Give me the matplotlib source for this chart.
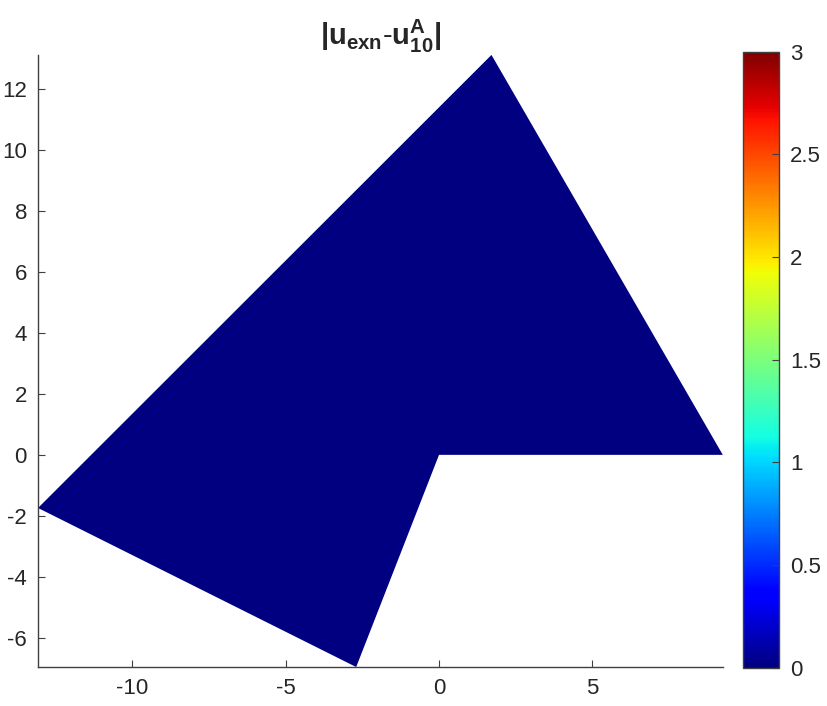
import matplotlib
matplotlib.use('Agg')
import matplotlib.pyplot as plt
from matplotlib.collections import PolyCollection
import numpy as np

plt.rcParams['font.family'] = ['Liberation Sans', 'DejaVu Sans']
plt.rcParams['mathtext.fontset'] = 'custom'
plt.rcParams['mathtext.rm'] = 'Liberation Sans'
plt.rcParams['mathtext.bf'] = 'Liberation Sans:bold'
plt.rcParams['axes.unicode_minus'] = False

# domain vertices (x, y) and error value on it
poly_x = [-13.07, 1.71, 9.25, 0.0, -2.70]
poly_y = [-1.74, 13.1, 0.0, 0.0, -6.95]
err_value = [0.0]
clim = (0, 3)
x_ticks = [-10, -5, 0, 5]
y_ticks = [-6, -4, -2, 0, 2, 4, 6, 8, 10, 12]
cb_ticks = [0, 0.5, 1, 1.5, 2, 2.5, 3]
cb_labels = ['0', '0.5', '1', '1.5', '2', '2.5', '3']

txt = '#262626'
fig = plt.figure(figsize=(8.27, 7.06), dpi=100)
ax = fig.add_axes([0.046, 0.0552, 0.828, 0.867])
cax = fig.add_axes([0.898, 0.054, 0.044, 0.873])

verts = [np.column_stack([poly_x, poly_y])]
pc = PolyCollection(verts, cmap='jet', edgecolors='none', antialiased=True)
pc.set_array(np.array(err_value))
pc.set_clim(*clim)
ax.add_collection(pc)

ax.set_xlim(min(poly_x), max(poly_x))
ax.set_ylim(min(poly_y), max(poly_y))
ax.set_xticks(x_ticks)
ax.set_yticks(y_ticks)
for s in ['top', 'right']:
    ax.spines[s].set_visible(False)
for s in ['left', 'bottom']:
    ax.spines[s].set_color('#404040')
    ax.spines[s].set_linewidth(1.0)
ax.tick_params(direction='in', length=5, width=0.8, colors='#404040',
               labelcolor=txt, labelsize=16, pad=8)

ax.set_title(r'$\mathbf{|u}_{\mathbf{exn}}\mathbf{\text{-}u}^{\mathbf{A}}_{\mathbf{10}}\mathbf{|}$',
             fontsize=21, color=txt, pad=4)

cb = fig.colorbar(pc, cax=cax)
cb.set_ticks(cb_ticks)
cb.set_ticklabels(cb_labels)
cb.outline.set_edgecolor('#404040')
cb.outline.set_linewidth(1.0)
cax.tick_params(direction='in', length=5, width=0.8, colors='#404040',
                labelcolor=txt, labelsize=16, pad=8)

fig.savefig('out.png', dpi=100, facecolor='white')
